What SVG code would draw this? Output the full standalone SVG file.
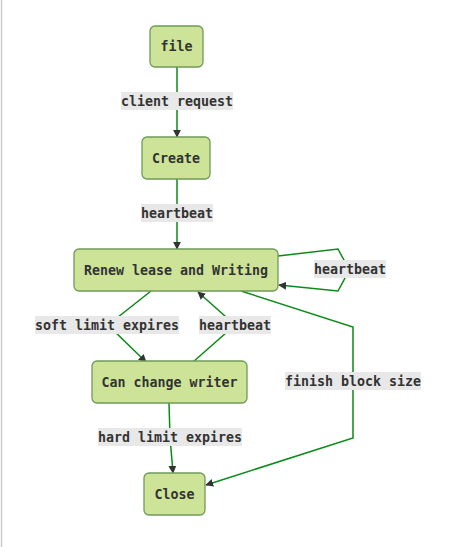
<svg xmlns="http://www.w3.org/2000/svg" width="468" height="547" viewBox="0 0 468 547">
<defs>
<style>
.node rect{fill:#cde498;stroke:#6f9b58;stroke-width:1.3}
.node text{font-family:"DejaVu Sans Mono","Liberation Mono",monospace;font-weight:bold;font-size:13.3px;fill:#333;text-anchor:middle;dominant-baseline:central}
.edge{fill:none;stroke:#0b8a16;stroke-width:1.5}
.lbl rect{fill:#e8e8e8}
.lbl text{font-family:"DejaVu Sans Mono","Liberation Mono",monospace;font-weight:bold;font-size:13.3px;fill:#333;text-anchor:middle;dominant-baseline:central}
</style>
<marker id="ah" viewBox="0 0 10 10" refX="9" refY="5" markerWidth="8" markerHeight="8" markerUnits="userSpaceOnUse" orient="auto">
<path d="M0,0 L10,5 L0,10 z" fill="#333"/>
</marker>
</defs>
<rect x="0" y="0" width="468" height="547" fill="#ffffff"/>
<line x1="1.5" y1="0" x2="1.5" y2="547" stroke="#cccccc" stroke-width="1.5"/>
<g id="connectors">
<path class="edge" d="M177,67 L177,137" marker-end="url(#ah)"/>
<path class="edge" d="M177,179 L177,249" marker-end="url(#ah)"/>
<path class="edge" d="M278,256 L338,249 L345,262 L345,278 L338,291 L279,285" marker-end="url(#ah)"/>
<path class="edge" d="M151,291 L108,325 L146,362" marker-end="url(#ah)"/>
<path class="edge" d="M193,362 L235,325 L198,292" marker-end="url(#ah)"/>
<path class="edge" d="M241,291 L353,327 L353,438 L206,485" marker-end="url(#ah)"/>
<path class="edge" d="M169,403 L170,437 L173,473" marker-end="url(#ah)"/>
</g>
<g id="labels">
<g class="lbl"><rect x="121" y="92" width="112" height="18"/><text x="177" y="101">client request</text></g>
<g class="lbl"><rect x="141" y="204" width="72" height="18"/><text x="177" y="213">heartbeat</text></g>
<g class="lbl"><rect x="314" y="260" width="72" height="18"/><text x="350" y="269">heartbeat</text></g>
<g class="lbl"><rect x="35" y="316" width="144" height="18"/><text x="107" y="325">soft limit expires</text></g>
<g class="lbl"><rect x="199" y="316" width="72" height="18"/><text x="235" y="325">heartbeat</text></g>
<g class="lbl"><rect x="285" y="372" width="136" height="18"/><text x="353" y="381">finish block size</text></g>
<g class="lbl"><rect x="98" y="428" width="144" height="18"/><text x="170" y="437">hard limit expires</text></g>
</g>
<g id="node-file" class="node"><rect x="150" y="26" width="53" height="41" rx="5"/><text x="176.5" y="46.5">file</text></g>
<g id="node-create" class="node"><rect x="142" y="137" width="68" height="42" rx="5"/><text x="176" y="158">Create</text></g>
<g id="node-renew" class="node"><rect x="74" y="249" width="204" height="42" rx="5"/><text x="176" y="270">Renew lease and Writing</text></g>
<g id="node-can" class="node"><rect x="92" y="361" width="155" height="42" rx="5"/><text x="169.5" y="382">Can change writer</text></g>
<g id="node-close" class="node"><rect x="144" y="473" width="61" height="42" rx="5"/><text x="174.5" y="494">Close</text></g>
</svg>
